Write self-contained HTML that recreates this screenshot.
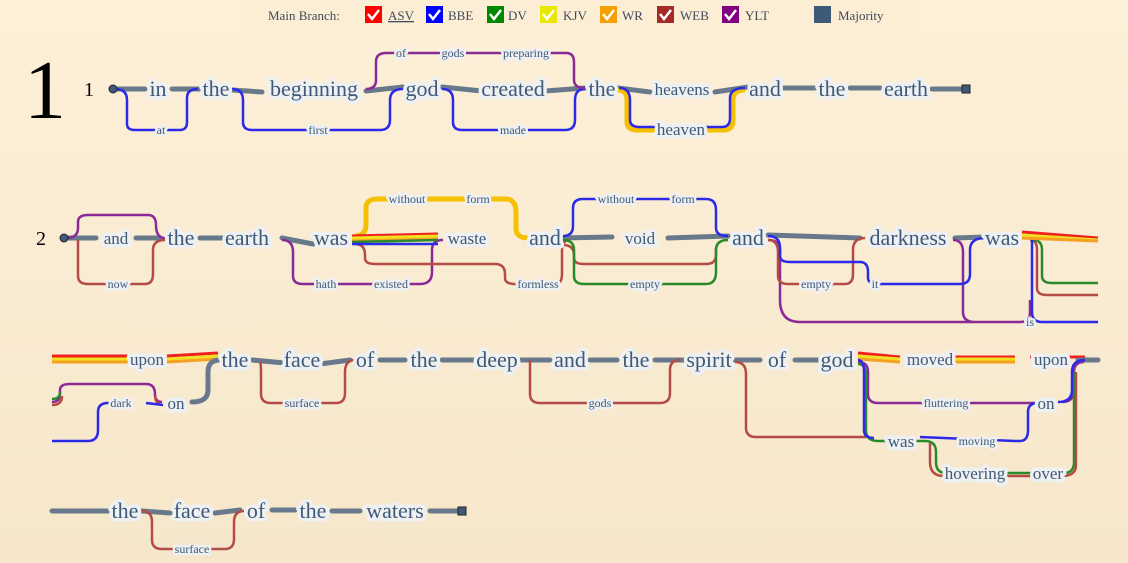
<!DOCTYPE html>
<html><head><meta charset="utf-8"><style>
html,body{margin:0;padding:0;width:1128px;height:563px;overflow:hidden;background:linear-gradient(180deg,#fdf0d8,#f6e7cb);}
svg{display:block}
.w{font-family:"Liberation Serif",serif;fill:#3f5a78;font-size:22px;text-anchor:middle;paint-order:stroke;stroke:#eef0f2;stroke-width:7px;stroke-linejoin:round}
.m{font-size:17px}
.s{font-size:12px;stroke-width:5px}
.g{fill:none;stroke:#67798a;stroke-width:5;stroke-linecap:round;stroke-linejoin:round}
.b{fill:none;stroke:#2a2ae8;stroke-width:2.5;stroke-linejoin:round}
.p{fill:none;stroke:#8a2a96;stroke-width:2.5;stroke-linejoin:round}
.r{fill:none;stroke:#b44b45;stroke-width:2.5;stroke-linejoin:round}
.gr{fill:none;stroke:#2a8a2a;stroke-width:2.5;stroke-linejoin:round}
.y{fill:none;stroke:#f5c000;stroke-width:5;stroke-linejoin:round}
.yl{fill:none;stroke:#f0e020;stroke-width:3}
.rd{fill:none;stroke:#f02020;stroke-width:3}
.or{fill:none;stroke:#f5a020;stroke-width:3}
.lg{font-family:"Liberation Serif",serif;font-size:13px;fill:#3f4a5a}
</style></head><body>
<svg width="1128" height="563" viewBox="0 0 1128 563">
<rect x="240" y="0" width="680" height="40" fill="#fbecd2" opacity="0.6"/>
<!-- legend -->
<text class="lg" x="268" y="20">Main Branch:</text>
<g>
<rect x="365" y="6" width="17" height="17" fill="#f00"/><text class="lg" x="388" y="20" text-decoration="underline">ASV</text>
<rect x="426" y="6" width="17" height="17" fill="#00f"/><text class="lg" x="448" y="20">BBE</text>
<rect x="487" y="6" width="17" height="17" fill="#080"/><text class="lg" x="508" y="20">DV</text>
<rect x="540" y="6" width="17" height="17" fill="#e8e800"/><text class="lg" x="563" y="20">KJV</text>
<rect x="600" y="6" width="17" height="17" fill="#f5a000"/><text class="lg" x="622" y="20">WR</text>
<rect x="657" y="6" width="17" height="17" fill="#a52a2a"/><text class="lg" x="680" y="20">WEB</text>
<rect x="722" y="6" width="17" height="17" fill="#800080"/><text class="lg" x="745" y="20">YLT</text>
<rect x="814" y="6" width="17" height="17" fill="#3f5a78"/><text class="lg" x="838" y="20">Majority</text>
<g fill="none" stroke="#fff" stroke-width="2.5"><path d="M368 14l4 5 7-9M429 14l4 5 7-9M490 14l4 5 7-9M543 14l4 5 7-9M603 14l4 5 7-9M660 14l4 5 7-9M725 14l4 5 7-9"/></g>
</g>
<text x="45" y="118" font-family="Liberation Serif,serif" font-size="84" text-anchor="middle" fill="#000">1</text>
<text x="89" y="96" font-family="Liberation Serif,serif" font-size="20" text-anchor="middle" fill="#000">1</text>
<text x="41" y="245" font-family="Liberation Serif,serif" font-size="20" text-anchor="middle" fill="#000">2</text>

<!-- ROW 1 -->
<path class="g" d="M113 89H145M172 89H200M232 90L262 92M366 91L403 87M442 87L482 91M545 91L585 88M618 88L650 92M715 92L748 87M782 88H815M850 88H880M932 89H965"/>
<path class="b" d="M115 89Q127 89 127 100V124Q127 130 135 130H180Q187 130 187 122V98Q187 89 198 89M232 89Q243 89 243 100V122Q243 130 252 130H380Q390 130 390 120V100Q390 89 403 89M442 89Q453 89 453 100V122Q453 130 462 130H565Q575 130 575 120V100Q575 89 585 89"/>
<path class="p" d="M366 89Q376 89 376 80V62Q376 53 386 53H566Q574 53 574 62V80Q574 88 585 88"/>
<path class="y" d="M618 90Q627 90 627 100V122Q627 130 637 130H724Q733 130 733 120V100Q733 90 745 90"/>
<path class="b" d="M619 88Q630 88 630 100V120Q630 127 640 127H722Q730 127 730 118V98Q730 88 745 88"/>
<rect x="962" y="85" width="8" height="8" fill="#3f5a78" stroke="#222" stroke-width="1"/>
<circle cx="113" cy="89" r="4" fill="#3f5a78" stroke="#222"/>
<text class="w" x="158" y="96">in</text><text class="w" x="216" y="96">the</text><text class="w" x="314" y="96">beginning</text><text class="w" x="422" y="96">god</text><text class="w" x="513" y="96">created</text><text class="w" x="602" y="96">the</text><text class="w m" x="682" y="95">heavens</text><text class="w" x="765" y="96">and</text><text class="w" x="832" y="96">the</text><text class="w" x="906" y="96">earth</text>
<text class="w s" x="161" y="134">at</text><text class="w s" x="318" y="134">first</text><text class="w s" x="401" y="57">of</text><text class="w s" x="453" y="57">gods</text><text class="w s" x="526" y="57">preparing</text><text class="w s" x="513" y="134">made</text><text class="w m" x="681" y="135">heaven</text>

<!-- ROW 2 -->
<path class="g" d="M64 238H96M136 238H160M200 238H225M282 238L313 244M560 238L612 237M668 238L728 236M768 235L860 238M955 238L985 237"/>
<path class="p" d="M66 238Q78 238 78 228V222Q78 215 88 215H148Q156 215 156 225Q156 238 165 238M282 240Q293 240 293 252V276Q293 284 303 284H420Q432 284 432 272V250Q432 240 443 240M768 240Q780 240 780 250V300Q780 322 800 322H1020Q1030 322 1030 312V300M953 240Q963 240 963 252V312Q963 322 975 322H1018"/>
<path class="r" d="M78 240V276Q78 284 88 284H145Q153 284 153 274V250Q153 240 165 240M355 244Q365 244 365 255V258Q365 264 375 264H495Q505 264 505 274V278Q505 284 515 284H555Q562 284 562 274V250Q562 240 570 240M563 245Q574 245 574 255V258Q574 264 584 264H706Q716 264 716 255V248M768 240Q778 240 778 252V276Q778 284 788 284H845Q853 284 853 274V250Q853 238 865 238M1030 240Q1037 240 1037 250V288Q1037 295 1047 295H1098"/>
<path class="gr" d="M563 240Q574 240 574 250V276Q574 284 584 284H706Q716 284 716 272V250Q716 240 728 240M1033 240Q1042 240 1042 250V276Q1042 283 1052 283H1098"/>
<path class="b" d="M563 236Q573 236 573 226V208Q573 199 583 199H706Q716 199 716 210V228Q716 236 728 236M768 236Q780 236 780 248V256Q780 262 790 262H860Q868 262 868 272V278Q868 284 878 284H960Q970 284 970 274V250Q970 238 985 238M1032 240Q1032 252 1032 262V312Q1032 322 1042 322H1098"/>
<path class="y" d="M355 236Q366 236 366 224V208Q366 199 377 199H505Q516 199 516 212V228Q516 238 528 238"/>
<path class="rd" d="M352 236L438 234M1022 232L1098 238"/>
<path class="or" d="M352 240L438 239"/><path class="yl" d="M352 238L438 236M1022 235L1098 240"/>
<path class="or" d="M1022 238L1098 241"/>
<path class="gr" d="M352 242L438 240"/><path class="b" d="M352 244L438 244"/>
<circle cx="64" cy="238" r="4" fill="#3f5a78" stroke="#222"/>
<text class="w m" x="116" y="244">and</text><text class="w" x="181" y="245">the</text><text class="w" x="247" y="245">earth</text><text class="w" x="331" y="245">was</text><text class="w m" x="467" y="244">waste</text><text class="w" x="545" y="245">and</text><text class="w m" x="640" y="244">void</text><text class="w" x="748" y="245">and</text><text class="w" x="908" y="245">darkness</text><text class="w" x="1002" y="245">was</text>
<text class="w s" x="118" y="288">now</text><text class="w s" x="326" y="288">hath</text><text class="w s" x="391" y="288">existed</text><text class="w s" x="407" y="203">without</text><text class="w s" x="478" y="203">form</text><text class="w s" x="538" y="288">formless</text><text class="w s" x="616" y="203">without</text><text class="w s" x="683" y="203">form</text><text class="w s" x="645" y="288">empty</text><text class="w s" x="816" y="288">empty</text><text class="w s" x="875" y="288">it</text><text class="w s" x="1030" y="326">is</text>

<!-- ROW 3 -->
<path class="rd" d="M52 356H128M167 356L218 353M858 353L900 357M955 357H1015M1085 357L1030 357"/>
<path class="yl" d="M52 359H128M167 359L218 356M858 356L900 359M955 359H1015"/>
<path class="or" d="M52 362H128M167 362L218 359M858 359L900 362M955 362H1015"/>
<path class="g" d="M192 402Q208 402 208 390V372Q208 360 220 360M252 360L285 363M320 364L350 360M380 360H405M442 360H477M518 360H550M590 360H617M655 360H685M735 360H760M795 360H818M1078 360H1098"/>
<path class="p" d="M52 402Q60 402 60 394V390Q60 384 70 384H146Q155 384 155 394Q155 402 162 402M858 362Q868 362 868 372V394Q868 403 878 403H1035M1062 402Q1074 402 1074 390V372Q1074 362 1084 362"/>
<path class="gr" d="M52 399Q60 399 60 392M858 364Q866 364 866 376V430Q866 441 878 441H925Q936 441 936 452V462Q936 473 946 473H1064Q1074 473 1074 462V372"/>
<path class="r" d="M52 405Q62 405 62 396M160 404Q156 404 155 396M260 362Q261 362 261 374V394Q261 403 271 403H336Q345 403 345 393V372Q345 360 355 360M530 360Q530 360 530 370V394Q530 403 540 403H660Q670 403 670 393V370Q670 360 680 360M735 362Q746 362 746 374V428Q746 437 756 437H866M930 443Q930 443 930 455V462Q930 476 944 476H1062Q1076 476 1076 465V372"/>
<path class="b" d="M52 441H88Q98 441 98 430V412Q98 403 108 403H120M146 403L163 405M858 360Q864 360 864 372V430Q864 438 874 438M920 437L1015 441H1020Q1028 441 1028 430V412Q1028 403 1038 403M1058 402Q1072 402 1072 390V372Q1072 360 1085 360"/>
<text class="w m" x="147" y="365">upon</text><text class="w" x="235" y="367">the</text><text class="w" x="302" y="367">face</text><text class="w" x="365" y="367">of</text><text class="w" x="424" y="367">the</text><text class="w" x="497" y="367">deep</text><text class="w" x="570" y="367">and</text><text class="w" x="636" y="367">the</text><text class="w" x="709" y="367">spirit</text><text class="w" x="777" y="367">of</text><text class="w" x="837" y="367">god</text><text class="w m" x="930" y="365">moved</text><text class="w m" x="1051" y="365">upon</text>
<text class="w s" x="121" y="407">dark</text><text class="w m" x="176" y="409">on</text><text class="w s" x="302" y="407">surface</text><text class="w s" x="600" y="407">gods</text><text class="w s" x="946" y="407">fluttering</text><text class="w m" x="1046" y="409">on</text><text class="w m" x="901" y="447">was</text><text class="w s" x="977" y="445">moving</text><text class="w m" x="975" y="479">hovering</text><text class="w m" x="1048" y="479">over</text>

<!-- ROW 4 -->
<path class="g" d="M52 511H108M142 511L170 513M215 513L240 510M272 510H295M332 511H360M430 511H461"/>
<path class="r" d="M142 511Q152 511 152 522V540Q152 549 162 549H225Q234 549 234 539V522Q234 511 244 511"/>
<rect x="458" y="507" width="8" height="8" fill="#3f5a78" stroke="#222" stroke-width="1"/>
<text class="w" x="125" y="518">the</text><text class="w" x="192" y="518">face</text><text class="w" x="256" y="518">of</text><text class="w" x="313" y="518">the</text><text class="w" x="395" y="518">waters</text>
<text class="w s" x="192" y="553">surface</text>
</svg>
</body></html>
